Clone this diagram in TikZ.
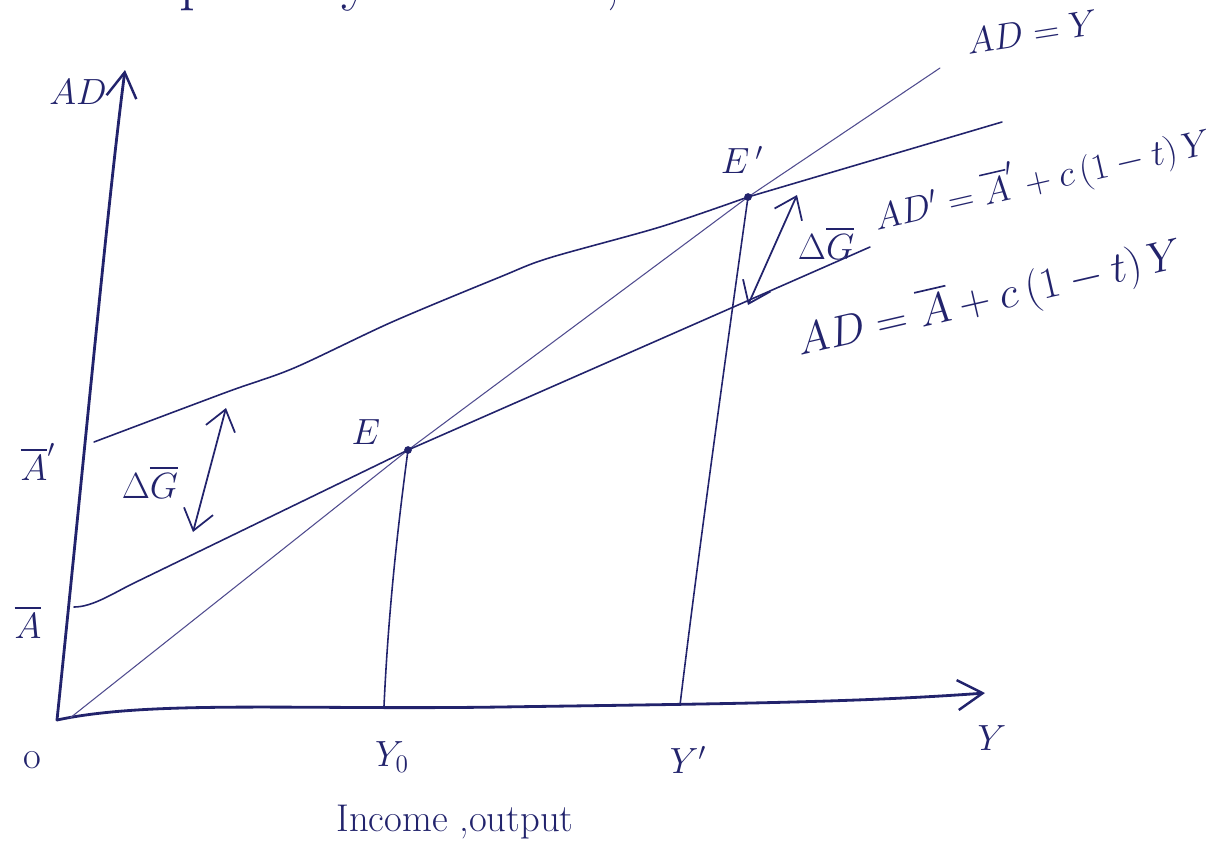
\documentclass[tikz,border=0pt]{standalone}
\usepackage{amsmath,amsfonts,bm}
\usepackage{xcolor}
\usepackage{tikz}
\usetikzlibrary{arrows.meta}
\def\vA{{\overline{A}}}
\def\vG{{\overline{G}}}
\definecolor{InkBlue}{HTML}{22236C}
\definecolor{PenBlue}{HTML}{4F4B8E}
\tikzset{
  axisline/.style={InkBlue, line width=1.6pt, line cap=round, -{Straight Barb[length=5mm,width=6mm,line width=1.4pt]}},
  inkline/.style={InkBlue, line width=0.9pt, line cap=round},
  faintline/.style={PenBlue, line width=0.6pt, line cap=round},
  dgarrow/.style={InkBlue, line width=1pt, {Straight Barb[length=4mm,width=6mm]}-{Straight Barb[length=4mm,width=6mm]}},
  hand/.style={InkBlue, font=\fontsize{22}{26}\selectfont},
  eqn/.style={InkBlue, font=\fontsize{22}{26}\selectfont, rotate=13, inner sep=1pt}
}

\begin{document}
\begin{tikzpicture}[x=0.02cm,y=-0.02cm]
        \useasboundingbox (0,0) rectangle (1220,843);

        \coordinate (O) at (57,720);
        \coordinate (ADtop) at (125,70);
        \coordinate (Yend) at (985,693);
        \coordinate (E) at (408,450);
        \coordinate (Ep) at (748,197);
        \coordinate (Abar) at (74,607);
        \coordinate (Abarp) at (94,442);
        \coordinate (Yo) at (384,706);
        \coordinate (Yp) at (680,705);
        \coordinate (diagA) at (70,718);
        \coordinate (diagK) at (815,152);
        \coordinate (diagEnd) at (940,68);
        \coordinate (ADend) at (870,247);
        \coordinate (ADpend) at (1002,122);

        \draw[axisline] (O) .. controls (85,450) and (108,200) .. (ADtop);
        \draw[axisline] (O) .. controls (150,700) and (300,710) .. (500,707) .. controls (700,704) and (850,703) .. (Yend);

        \draw[faintline] (diagA) -- (E) -- (Ep) -- (diagK) -- (diagEnd);
        \draw[inkline] (Abar) .. controls (92,607) and (112,594) .. (132,584) -- (E) -- (ADend);
        \draw[inkline] plot[smooth] coordinates {(Abarp) (227,392) (294,368) (392,322) (500,277) (549,258) (660,227) (Ep)} -- (ADpend);

        \draw[inkline] (E) .. controls (396,540) and (388,620) .. (Yo);
        \draw[inkline] (Ep) .. controls (728,340) and (700,540) .. (Yp);

        \fill[InkBlue] (E) circle (2.2pt);
        \fill[InkBlue] (Ep) circle (2.2pt);

        \coordinate (dGa) at (226,408);
        \coordinate (dGb) at (193,532);
        \coordinate (dGc) at (797,195);
        \coordinate (dGd) at (748,305);
        \draw[dgarrow] (dGa) -- (dGb);
        \draw[dgarrow] (dGc) -- (dGd);

        \node[hand] (ADlab) at (78,92) {$AD$};
        \node[hand] (Abarlab) at (28,622) {$\vA$};
        \node[hand] (Abarplab) at (38,462) {$\vA'$};
        \node[hand] (Olab) at (32,760) {o};
        \node[hand] (Yolab) at (392,757) {$Y_0$};
        \node[hand] (Yplab) at (688,760) {$Y'$};
        \node[hand] (Ylab) at (992,738) {$Y$};
        \node[hand] (incomelab) at (455,822) {Income ,output};
        \node[hand] (Elab) at (366,432) {$E$};
        \node[hand] (Eplab) at (742,160) {$E\,'$};
        \node[hand] (dGleftlab) at (150,482) {$\Delta\vG$};
        \node[hand] (dGrightlab) at (826,243) {$\Delta\vG$};
        \node[eqn, rotate=-4] (eqdiag) at (1032,32) {$AD=Y$};
        \node[eqn] (eqADp) at (1042,178) {$AD'=\vA'+c\,(1-t)\,Y$};
        \node[eqn, font=\fontsize{24}{28}\selectfont] (eqAD) at (990,298) {$AD=\vA+c\,(1-t)\,Y$};
        \node[hand, anchor=base west, font=\fontsize{36}{40}\selectfont] (topnote) at (40,-2) {multiplier by $\Delta G\times c\,\Delta R$,};

    \end{tikzpicture}
\end{document}
